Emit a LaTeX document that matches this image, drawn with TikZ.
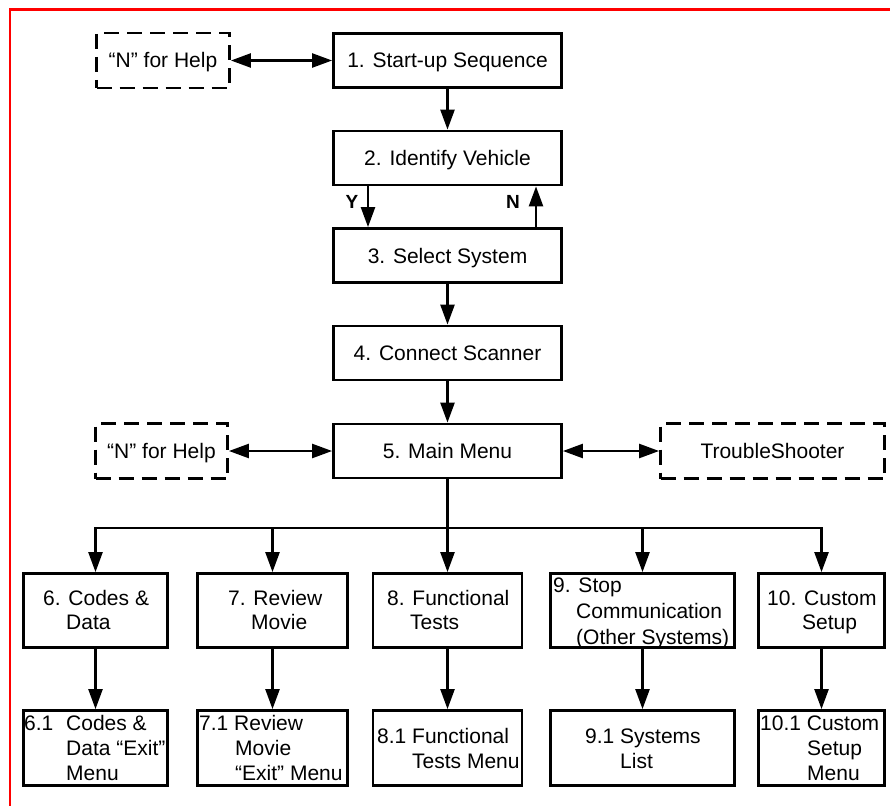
\documentclass[tikz,border=0pt]{standalone}
\usepackage{fontspec}
\setmainfont{Liberation Sans}
\usetikzlibrary{arrows.meta}
\begin{document}
\begin{tikzpicture}[x=1pt,y=-1pt,
  box/.style={draw, line width=2.8pt, minimum height=54pt, inner sep=0pt,
    font=\fontsize{21}{25}\selectfont, text height=15pt, text depth=0pt},
  dbox/.style={box, dash pattern=on 15pt off 8pt},
  lbl/.style={anchor=base west, inner sep=0pt, font=\fontsize{21}{25}\selectfont},
  arr/.style={line width=2.4pt, -{Triangle[length=20pt,width=14pt]}},
  darr/.style={line width=2.4pt, {Triangle[length=20pt,width=14pt]}-{Triangle[length=20pt,width=14pt]}},
  yn/.style={font=\fontsize{19}{22}\selectfont\bfseries, inner sep=0pt}
]
\useasboundingbox (0,0) rectangle (890,805);
% red frame
\draw[red, line width=2.5pt] (10,806) -- (10,9.5) -- (891,9.5);

% main column
\node[box, minimum width=228pt] (b1) at (447.5,60.5) {1. Start-up Sequence};
\node[box, minimum width=228pt] (b2) at (447.5,158) {2. Identify Vehicle};
\node[box, minimum width=228pt] (b3) at (447.5,255.5) {3. Select System};
\node[box, minimum width=228pt] (b4) at (447.5,353) {4. Connect Scanner};
\node[box, minimum width=228pt] (b5) at (447.5,451) {5. Main Menu};

\node[dbox, minimum width=133pt, minimum height=55pt] (h1) at (163,60.5) {“N” for Help};
\node[dbox, minimum width=132pt, minimum height=55pt] (h2) at (161.5,451) {“N” for Help};
\node[dbox, minimum width=224pt, minimum height=55pt] (ts) at (772.5,451) {TroubleShooter};

\draw[darr] (h1) -- (b1);
\draw[arr] (b1) -- (b2);
\coordinate (ycol) at (368,0);
\coordinate (ncol) at (536,0);
\draw[arr] (b2.south -| ycol) -- (b3.north -| ycol);
\draw[arr] (b3.north -| ncol) -- (b2.south -| ncol);
\node[yn] (ylab) at (352,202) {Y};
\node[yn] (nlab) at (513,202) {N};
\draw[arr] (b3) -- (b4);
\draw[arr] (b4) -- (b5);
\draw[darr] (h2) -- (b5);
\draw[darr] (b5) -- (ts);

% lower boxes
\node[box, minimum width=144pt, minimum height=74pt] (b6) at (95.5,610.5) {};
\node[box, minimum width=150pt, minimum height=74pt] (b7) at (272.5,610.5) {};
\node[box, minimum width=149pt, minimum height=74pt] (b8) at (447.5,610.5) {};
\node[box, minimum width=184pt, minimum height=74pt] (b9) at (642.5,610.5) {};
\node[box, minimum width=126pt, minimum height=74pt] (b10) at (821.5,610.5) {};

\node[box, minimum width=144pt, minimum height=75pt] (b61) at (95.5,748) {};
\node[box, minimum width=150pt, minimum height=75pt] (b71) at (272.5,748) {};
\node[box, minimum width=149pt, minimum height=75pt] (b81) at (447.5,748) {};
\node[box, minimum width=184pt, minimum height=75pt] (b91) at (642.5,748) {};
\node[box, minimum width=126pt, minimum height=75pt] (b101) at (821.5,748) {};

% bus
\coordinate (bus) at (0,528);
\foreach \n in {b6,b7,b8,b9,b10}
  \draw[arr] (b5.south) -- (b5.south |- bus) -| (\n.north);
\draw[arr] (b6) -- (b61);
\draw[arr] (b7) -- (b71);
\draw[arr] (b8) -- (b81);
\draw[arr] (b9) -- (b91);
\draw[arr] (b10) -- (b101);

% texts row 1
\node[lbl] (t6a) at (43,605) {6. Codes \&};
\node[lbl] (t6b) at (66,629) {Data};
\node[lbl] (t7a) at (228,605) {7. Review};
\node[lbl] (t7b) at (251,629) {Movie};
\node[lbl] (t8a) at (387,605) {8. Functional};
\node[lbl] (t8b) at (410,629) {Tests};
\node[lbl] (t9a) at (553,592) {9. Stop};
\node[lbl] (t9b) at (576,618) {Communication};
\node[lbl] (t9c) at (576,644) {(Other Systems)};
\node[lbl] (t10a) at (767,605) {10. Custom};
\node[lbl] (t10b) at (802,629) {Setup};

% texts row 2
\node[lbl] (t61a) at (24,730) {6.1};
\node[lbl] (t61b) at (66,730) {Codes \&};
\node[lbl] (t61c) at (66,755) {Data “Exit”};
\node[lbl] (t61d) at (66,780) {Menu};
\node[lbl] (t71a) at (199,730) {7.1 Review};
\node[lbl] (t71b) at (235,755) {Movie};
\node[lbl] (t71c) at (235,780) {“Exit” Menu};
\node[lbl] (t81a) at (377,743) {8.1 Functional};
\node[lbl] (t81b) at (412,768) {Tests Menu};
\node[lbl] (t91a) at (585,743) {9.1 Systems};
\node[lbl] (t91b) at (620,768) {List};
\node[lbl] (t101a) at (760,730) {10.1 Custom};
\node[lbl] (t101b) at (807,755) {Setup};
\node[lbl] (t101c) at (807,780) {Menu};
\end{tikzpicture}
\end{document}
